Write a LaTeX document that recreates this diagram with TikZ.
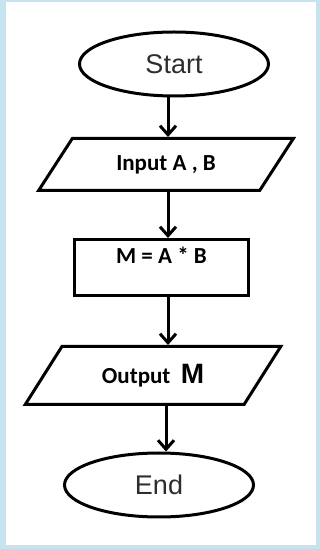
\documentclass[tikz,border=0pt]{standalone}
\usepackage{fontspec}
\setmainfont{Liberation Sans}
\newfontfamily\boxfont{Carlito}
\usetikzlibrary{shapes.geometric,arrows.meta}

\definecolor{framebl}{RGB}{198,228,240}
\definecolor{txtgray}{RGB}{45,45,45}

\tikzset{
  terminal/.style={ellipse,draw,line width=3pt,minimum width=189pt,minimum height=64pt,inner sep=0pt,
    text=txtgray,font=\fontsize{27}{27}\selectfont},
  iobox/.style={trapezium,draw,line width=3pt,trapezium stretches=true,inner sep=0pt,
    font=\boxfont\bfseries\fontsize{23}{23}\selectfont},
  procbox/.style={rectangle,draw,line width=3pt,minimum width=174pt,minimum height=56pt,inner sep=0pt,
    font=\boxfont\bfseries\fontsize{23}{23}\selectfont},
  arr/.style={line width=3pt,-{Straight Barb[length=9pt,width=16pt,line width=3pt]}}
}

\begin{document}
\begin{tikzpicture}[x=1pt,y=1pt]
    % Rahmen
    \fill[framebl] (0,0) rectangle (320,549);
    \fill[white] (6,4) rectangle (316,547);
    \useasboundingbox (0,0) rectangle (320,549);

    \coordinate (axis) at (168,0);

    % Start
    \node[terminal] (start) at (174,485) {Start};

    % Eingabe
    \node[iobox,minimum width=255pt,minimum height=52pt,
          trapezium left angle=46,trapezium right angle=134] (input) at (166,384.5) {Input A , B};

    % Berechnung
    \node[procbox,text height=12pt,text depth=20pt] (calc) at (161.5,281.5) {M = A * B};

    % Ausgabe
    \node[iobox,minimum width=256pt,minimum height=58pt,
          trapezium left angle=48,trapezium right angle=132] (output) at (153,173.5)
          {Output\ \ {\rmfamily\fontsize{28}{28}\selectfont M}};

    % Ende
    \node[terminal] (end) at (159,64) {End};

    % Pfeile
    \draw[arr] (start.south -| axis) -- (input.north -| axis);
    \draw[arr] (input.south -| axis) -- (calc.north -| axis);
    \draw[arr] (calc.south -| axis) -- (output.north -| axis);
    \draw[arr] (output.south -| 166,0) -- (end.north -| 166,0);

\end{tikzpicture}
\end{document}
